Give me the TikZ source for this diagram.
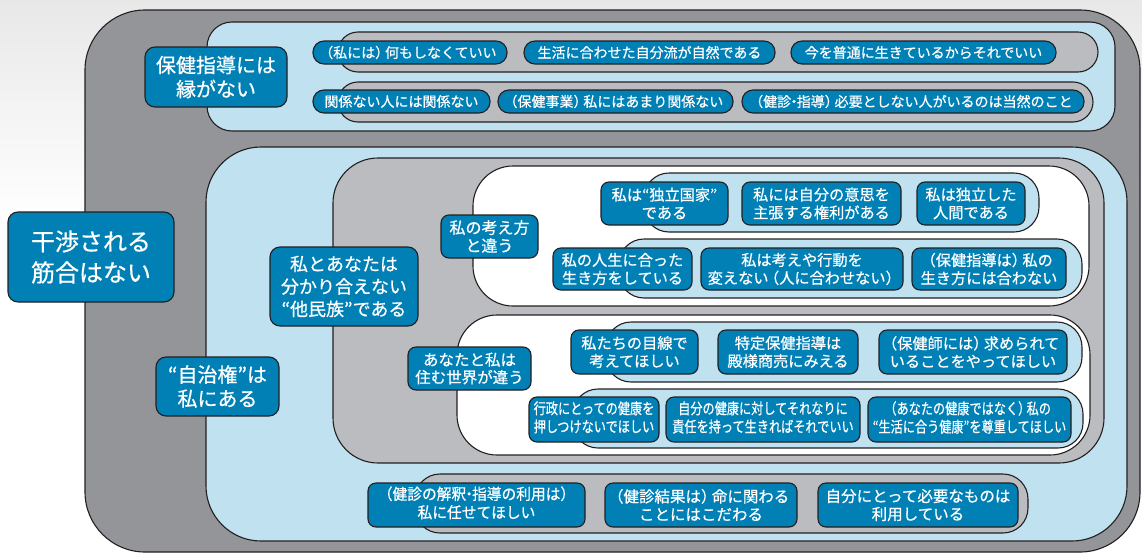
\documentclass[tikz,border=0pt]{standalone}
\usepackage{fontspec}
\usepackage{graphicx}
\newfontfamily\jp{Noto Sans CJK JP}[FakeBold=0.6]
\definecolor{outerg}{RGB}{147,149,152}
\definecolor{lblue}{RGB}{192,225,240}
\definecolor{midg}{RGB}{186,188,191}
\definecolor{pblue}{RGB}{0,128,181}
\definecolor{edge}{RGB}{35,31,32}
\newcommand{\mybox}[7]{%
  \pgfmathsetmacro\mbcx{(#2+#4)/2}%
  \pgfmathsetmacro\mbcy{(#3+#5)/2}%
  \pgfmathsetmacro\mbw{#4-#2}%
  \pgfmathsetmacro\mbh{#5-#3}%
  \node[#6, minimum width=\mbw pt, minimum height=\mbh pt] (#1) at (\mbcx,\mbcy) {#7};}
\newcommand{\sqz}[2]{\scalebox{#1}[1]{\begin{tabular}{@{}c@{}}#2\end{tabular}}}
\newcommand{\lpar}{\kern-0.3em（}
\newcommand{\rpar}{）\kern-0.3em}
\newcommand{\mdot}{\kern-0.3em・\kern-0.3em}
\begin{document}
\begin{tikzpicture}[x=1pt,y=-1pt,
  panel/.style={draw=edge, line width=1.1pt},
  box/.style={draw=edge, fill=pblue, text=white, inner sep=0pt, outer sep=0pt, align=center, line width=1.1pt},
  pillbox/.style={box, rounded corners=11pt, font=\jp\fontsize{14}{16}\selectfont},
  subbox/.style={box, rounded corners=8pt, font=\jp\fontsize{15.2}{18}\selectfont},
  botbox/.style={box, rounded corners=8pt, font=\jp\fontsize{15.5}{18}\selectfont},
  lab/.style={box, rounded corners=10pt}]
\useasboundingbox (0,0) rectangle (1142,554);
\fill[white] (0,0) rectangle (1142,554);
\shade[top color=gray!18, bottom color=white] (0,0) rectangle (1142,220);
% outer panel
\filldraw[panel, fill=outerg, rounded corners=60pt] (85,10) rectangle (1140,552);
% top panel
\filldraw[panel, fill=lblue, rounded corners=25pt] (207,22) rectangle (1115,131);
\filldraw[panel, fill=midg, rounded corners=20pt] (338,32) rectangle (1098,72);
\filldraw[panel, fill=midg, rounded corners=20pt] (338,82) rectangle (1093,122);
% middle panel
\filldraw[panel, fill=lblue, rounded corners=55pt] (206,147) rectangle (1127,541);
\filldraw[panel, fill=midg, rounded corners=45pt] (333,158) rectangle (1104,463);
\filldraw[panel, fill=white, rounded corners=40pt] (473,166) rectangle (1089,306);
\filldraw[panel, fill=white, rounded corners=40pt] (457,315) rectangle (1090,455);
\filldraw[panel, fill=lblue, rounded corners=25pt] (644,173) rectangle (1039,232);
\filldraw[panel, fill=lblue, rounded corners=25pt] (619,239) rectangle (1082,298);
\filldraw[panel, fill=lblue, rounded corners=25pt] (606,322) rectangle (1082,382);
\filldraw[panel, fill=lblue, rounded corners=25pt] (573,389) rectangle (1083,448);
\filldraw[panel, fill=midg, rounded corners=25pt] (415,474) rectangle (1028,533);
% labels
\mybox{kansho}{8}{212}{174}{302}{lab, font=\jp\fontsize{24}{31}\selectfont}{干渉される\\筋合はない}
\mybox{hoken}{145}{47}{287}{107}{lab, font=\jp\fontsize{20}{24}\selectfont}{保健指導には\\縁がない}
\mybox{taminzoku}{270}{247}{418}{326}{lab, font=\jp\fontsize{18}{22.5}\selectfont}{私とあなたは\\分かり合えない\\“他民族”である}
\mybox{jichi}{156}{357}{279}{416}{lab, font=\jp\fontsize{20}{24}\selectfont}{“自治権”は\\私にある}
\mybox{kangae}{441}{215}{538}{258}{lab, rounded corners=8pt, font=\jp\fontsize{16}{18}\selectfont}{私の考え方\\と違う}
\mybox{sekai}{408}{347}{531}{390}{lab, rounded corners=8pt, font=\jp\fontsize{15.5}{17.5}\selectfont}{あなたと私は\\住む世界が違う}
% top rows
\mybox{a1}{313}{41}{507}{64}{pillbox}{\lpar 私には\rpar 何もしなくていい}
\mybox{a2}{524}{41}{775}{64}{pillbox}{生活に合わせた自分流が自然である}
\mybox{a3}{791}{41}{1056}{64}{pillbox}{今を普通に生きているからそれでいい}
\mybox{b1}{313}{90}{490}{113}{pillbox}{関係ない人には関係ない}
\mybox{b2}{498}{90}{733}{113}{pillbox}{\lpar 保健事業\rpar 私にはあまり関係ない}
\mybox{b3}{742}{90}{1084}{113}{pillbox}{\lpar 健診\mdot 指導\rpar 必要としない人がいるのは当然のこと}
% sub rows
\mybox{c1}{601}{182}{728}{225}{subbox}{私は“独立国家”\\である}
\mybox{c2}{742}{182}{901}{225}{subbox}{私には自分の意思を\\主張する権利がある}
\mybox{c3}{917}{182}{1025}{225}{subbox}{私は独立した\\人間である}
\mybox{d1}{553}{248}{692}{290}{subbox}{私の人生に合った\\生き方をしている}
\mybox{d2}{701}{248}{903}{290}{subbox}{私は考えや行動を\\変えない\lpar 人に合わせない\rpar}
\mybox{d3}{912}{248}{1066}{290}{subbox}{\lpar 保健指導は\rpar 私の\\生き方には合わない}
\mybox{e1}{571}{330}{698}{374}{subbox}{私たちの目線で\\考えてほしい}
\mybox{e2}{718}{330}{858}{374}{subbox}{特定保健指導は\\殿様商売にみえる}
\mybox{e3}{879}{330}{1067}{374}{subbox}{\lpar 保健師には\rpar 求められて\\いることをやってほしい}
\mybox{f1}{529}{397}{659}{442}{subbox}{\sqz{0.8}{行政にとっての健康を\\押しつけないでほしい}}
\mybox{f2}{666}{397}{860}{442}{subbox}{\sqz{0.8}{自分の健康に対してそれなりに\\責任を持って生きればそれでいい}}
\mybox{f3}{868}{397}{1071}{442}{subbox}{\sqz{0.8}{\lpar あなたの健康ではなく\rpar 私の\\“生活に合う健康”を尊重してほしい}}
% bottom row
\mybox{g1}{368}{483}{585}{527}{botbox}{\sqz{0.95}{\lpar 健診の解釈\mdot 指導の利用は\rpar\\私に任せてほしい}}
\mybox{g2}{605}{483}{797}{527}{botbox}{\lpar 健診結果は\rpar 命に関わる\\ことにはこだわる}
\mybox{g3}{818}{483}{1018}{527}{botbox}{自分にとって必要なものは\\利用している}
\end{tikzpicture}
\end{document}
